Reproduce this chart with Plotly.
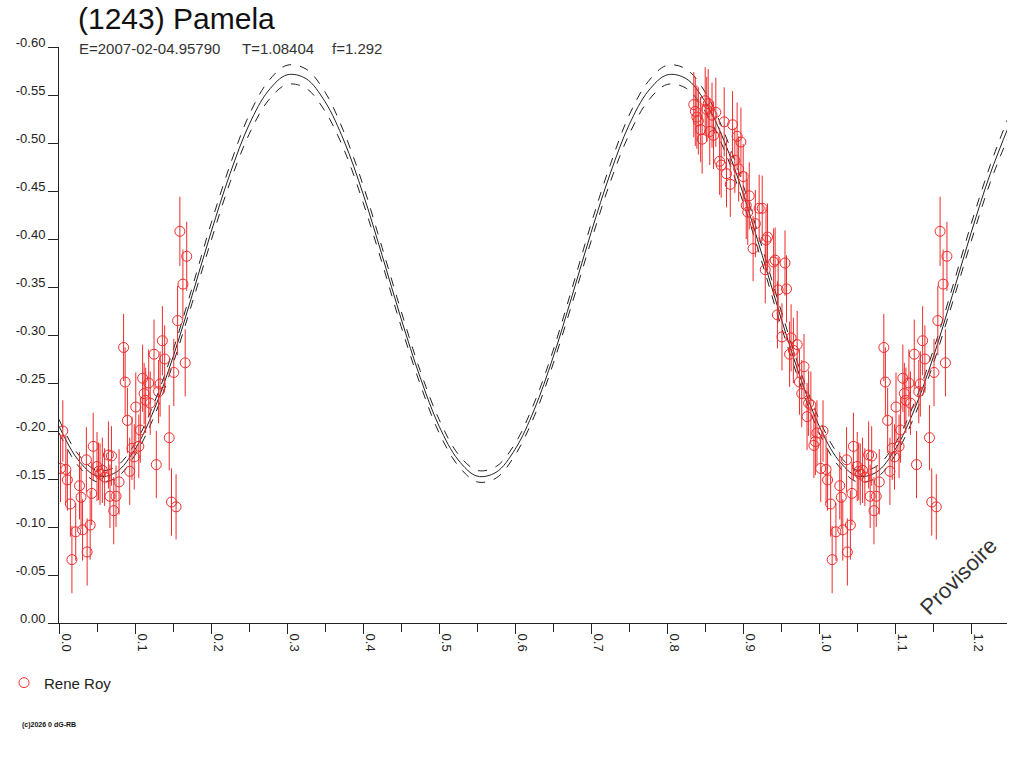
import plotly.graph_objects as go

# observations (phase, reduced magnitude, error) - Rene Roy
phase = [0.002, 0.005, 0.009, 0.011, 0.015, 0.017, 0.022, 0.027, 0.029, 0.031,
         0.036, 0.037, 0.041, 0.043, 0.045, 0.050, 0.052, 0.054, 0.057, 0.060,
         0.065, 0.067, 0.069, 0.072, 0.075, 0.079, 0.085, 0.087, 0.090, 0.093,
         0.096, 0.099, 0.101, 0.105, 0.107, 0.110, 0.112, 0.114, 0.118, 0.120,
         0.125, 0.128, 0.131, 0.133, 0.136, 0.139, 0.145, 0.148, 0.151, 0.154,
         0.156, 0.159, 0.163, 0.166, 0.168,
         0.835, 0.837, 0.839, 0.841, 0.844, 0.846, 0.850, 0.852, 0.854, 0.856,
         0.859, 0.861, 0.864, 0.869, 0.871, 0.875, 0.878, 0.883, 0.886, 0.889,
         0.892, 0.894, 0.897, 0.900, 0.904, 0.906, 0.908, 0.913, 0.916, 0.921,
         0.925, 0.929, 0.930, 0.932, 0.940, 0.942, 0.945, 0.946, 0.951, 0.955,
         0.957, 0.961, 0.963, 0.966, 0.971, 0.974, 0.977, 0.980, 0.984, 0.986,
         0.989, 0.993, 0.995, 0.997]
mag = [-0.161, -0.200, -0.160, -0.149, -0.124, -0.066, -0.095, -0.143, -0.131, -0.097,
       -0.170, -0.074, -0.102, -0.135, -0.184, -0.163, -0.158, -0.155, -0.159, -0.152,
       -0.175, -0.132, -0.174, -0.117, -0.132, -0.147, -0.287, -0.251, -0.211, -0.158,
       -0.182, -0.173, -0.225, -0.184, -0.201, -0.255, -0.239, -0.232, -0.250, -0.229,
       -0.280, -0.165, -0.241, -0.249, -0.294, -0.275, -0.193, -0.126, -0.261, -0.121,
       -0.315, -0.408, -0.353, -0.271, -0.382,
       -0.540, -0.533, -0.527, -0.523, -0.514, -0.504, -0.544, -0.535, -0.541, -0.512,
       -0.529, -0.508, -0.532, -0.481, -0.477, -0.522, -0.468, -0.457, -0.519, -0.482,
       -0.507, -0.473, -0.501, -0.465, -0.435, -0.428, -0.445, -0.390, -0.416, -0.432,
       -0.432, -0.368, -0.399, -0.402, -0.376, -0.378, -0.321, -0.347, -0.298, -0.375,
       -0.348, -0.280, -0.297, -0.284, -0.290, -0.251, -0.239, -0.267, -0.215, -0.229,
       -0.227, -0.185, -0.189, -0.198]
mag_err = [0.035, 0.032, 0.035, 0.032, 0.034, 0.035, 0.030, 0.035, 0.033, 0.032,
           0.034, 0.035, 0.036, 0.033, 0.035, 0.036, 0.030, 0.032, 0.034, 0.030,
           0.035, 0.033, 0.031, 0.035, 0.032, 0.034, 0.035, 0.036, 0.034, 0.035,
           0.033, 0.034, 0.036, 0.033, 0.034, 0.035, 0.032, 0.034, 0.035, 0.033,
           0.036, 0.035, 0.033, 0.034, 0.036, 0.035, 0.034, 0.035, 0.035, 0.034,
           0.036, 0.036, 0.036, 0.035, 0.036,
           0.034, 0.036, 0.033, 0.035, 0.034, 0.036, 0.035, 0.034, 0.036, 0.035,
           0.034, 0.035, 0.036, 0.035, 0.034, 0.036, 0.035, 0.034, 0.035, 0.034,
           0.035, 0.034, 0.036, 0.034, 0.035, 0.034, 0.035, 0.034, 0.035, 0.035,
           0.034, 0.035, 0.034, 0.035, 0.035, 0.034, 0.035, 0.034, 0.035, 0.034,
           0.035, 0.034, 0.035, 0.034, 0.035, 0.034, 0.035, 0.034, 0.035, 0.034,
           0.035, 0.034, 0.035, 0.034]

# fitted lightcurve and its uncertainty envelope
curve_phase = [0.000, 0.025, 0.050, 0.075, 0.100, 0.125, 0.150, 0.175, 0.200, 0.225,
               0.250, 0.275, 0.300, 0.325, 0.350, 0.375, 0.400, 0.425, 0.450, 0.475,
               0.500, 0.525, 0.550, 0.575, 0.600, 0.625, 0.650, 0.675, 0.700, 0.725,
               0.750, 0.775, 0.800, 0.825, 0.850, 0.875, 0.900, 0.925, 0.950, 0.975,
               1.000, 1.025, 1.050, 1.075, 1.100, 1.125, 1.150, 1.175, 1.200, 1.225,
               1.250]
curve_mag = [-0.205, -0.170, -0.153, -0.157, -0.181, -0.222, -0.277, -0.341, -0.407, -0.468,
             -0.519, -0.554, -0.571, -0.567, -0.543, -0.502, -0.447, -0.383, -0.317, -0.256,
             -0.205, -0.170, -0.153, -0.157, -0.181, -0.222, -0.277, -0.341, -0.407, -0.468,
             -0.519, -0.554, -0.571, -0.567, -0.543, -0.502, -0.447, -0.383, -0.317, -0.256,
             -0.205, -0.170, -0.153, -0.157, -0.181, -0.222, -0.277, -0.341, -0.407, -0.468,
             -0.519]
curve_err = [0.007, 0.006, 0.006, 0.006, 0.006, 0.007, 0.007, 0.008, 0.009, 0.009,
             0.010, 0.010, 0.010, 0.010, 0.010, 0.009, 0.009, 0.008, 0.008, 0.007,
             0.007, 0.006, 0.006, 0.006, 0.006, 0.007, 0.007, 0.008, 0.009, 0.009,
             0.010, 0.010, 0.010, 0.010, 0.010, 0.009, 0.009, 0.008, 0.008, 0.007,
             0.007, 0.006, 0.006, 0.006, 0.006, 0.007, 0.007, 0.008, 0.009, 0.009,
             0.010]

y_tick_vals = [0.0, -0.05, -0.10, -0.15, -0.20, -0.25, -0.30, -0.35, -0.40, -0.45, -0.50, -0.55, -0.60]
y_tick_text = ["0.00", "-0.05", "-0.10", "-0.15", "-0.20", "-0.25", "-0.30",
               "-0.35", "-0.40", "-0.45", "-0.50", "-0.55", "-0.60"]

RED = "#ee2b2b"
INK = "#222222"
FONT = "Liberation Sans, Arial, sans-serif"

fig = go.Figure()

upper = [m - e for m, e in zip(curve_mag, curve_err)]
lower = [m + e for m, e in zip(curve_mag, curve_err)]
for ys, dash in [(upper, "dash"), (lower, "dash"), (curve_mag, "solid")]:
    fig.add_trace(go.Scatter(x=curve_phase, y=ys, mode="lines",
                             line=dict(color=INK, width=1, dash=dash, shape="spline"),
                             showlegend=False, hoverinfo="skip"))

# data shown at phase and phase+1
for shift, show in [(0, True), (1, False)]:
    fig.add_trace(go.Scatter(
        x=[p + shift for p in phase], y=mag, mode="markers", name="Rene Roy",
        showlegend=show, legendgroup="rr",
        marker=dict(symbol="circle-open", size=10, color=RED, line=dict(width=1, color=RED)),
        error_y=dict(type="data", array=mag_err, color=RED, thickness=1, width=0)))

fig.update_xaxes(range=[0, 1.247], dtick=0.1, tick0=0, tickformat=".1f",
                 tickangle=90, ticks="outside", ticklen=10, tickcolor=INK,
                 ticklabelshift=7, ticklabelstandoff=-3,
                 minor=dict(dtick=0.05, ticks="outside", ticklen=8, tickcolor=INK),
                 showline=True, linecolor=INK, linewidth=1, showgrid=False, zeroline=False,
                 tickfont=dict(family=FONT, size=13, color=INK))
fig.update_yaxes(range=[0, -0.6], tickvals=y_tick_vals, ticktext=y_tick_text,
                 ticks="outside", ticklen=10, tickcolor=INK, ticklabelshift=5,
                 showline=True, linecolor=INK, linewidth=1, showgrid=False, zeroline=False,
                 tickfont=dict(family=FONT, size=13, color=INK))

fig.add_annotation(text="(1243) Pamela", xref="paper", yref="paper", x=0.018, y=1.049,
                   xanchor="left", yanchor="middle", showarrow=False,
                   font=dict(family=FONT, size=30, color="#111111"))
for txt, xp in [("E=2007-02-04.95790", 0.019), ("T=1.08404", 0.191), ("f=1.292", 0.286)]:
    fig.add_annotation(text=txt, xref="paper", yref="paper", x=xp, y=0.997,
                       xanchor="left", yanchor="middle", showarrow=False,
                       font=dict(family=FONT, size=15, color="#333333"))
fig.add_annotation(text="Provisoire", xref="paper", yref="paper", x=0.949, y=0.080,
                   xanchor="center", yanchor="middle", textangle=-45, showarrow=False,
                   font=dict(family=FONT, size=22, color="#333333"))
fig.add_annotation(text="<b>(c)2026 0 dG-RB</b>", xref="paper", yref="paper", x=-0.041, y=-0.177,
                   xanchor="left", yanchor="middle", showarrow=False,
                   font=dict(family=FONT, size=7, color="#111111"))

fig.update_layout(width=1024, height=768, plot_bgcolor="white", paper_bgcolor="white",
                  margin=dict(l=59, r=17, t=47, b=145, autoexpand=False),
                  legend=dict(x=-0.058, y=-0.104, xanchor="left", yanchor="middle",
                              itemwidth=30, font=dict(family=FONT, size=15, color=INK),
                              bgcolor="rgba(0,0,0,0)"),
                  hovermode=False)

fig.write_html("out.html", config={"displayModeBar": False},
               post_script="document.body.style.margin='0';document.body.style.overflow='hidden';")
